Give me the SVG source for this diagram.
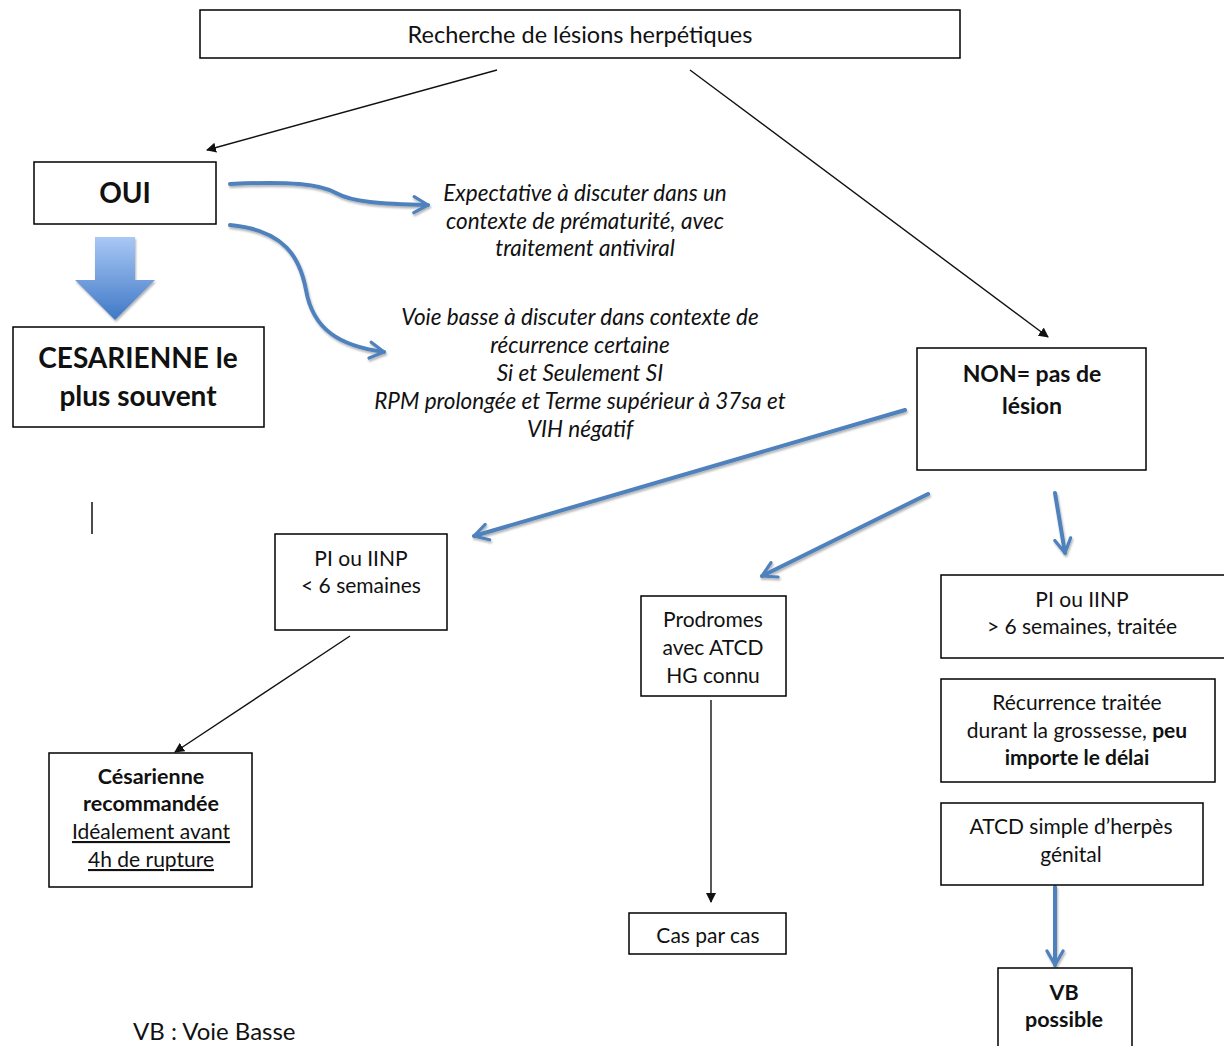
<svg xmlns="http://www.w3.org/2000/svg" width="1224" height="1046" viewBox="0 0 1224 1046">
<defs>
<style>
.box{fill:#fff;stroke:#000;stroke-width:1.5}
.t{font-family:Lato,"Open Sans","Liberation Sans",sans-serif;fill:#111;text-anchor:middle}
.r{font-size:21px}
.b{font-weight:bold}
.i{font-style:italic;font-size:22.5px}
.blk{fill:none;stroke:#111;stroke-width:1.4;marker-end:url(#tri)}
.blue{fill:none;stroke:#4f81bd;stroke-width:4;stroke-linecap:round;marker-end:url(#chev);filter:url(#sh)}
</style>
<marker id="tri" viewBox="0 0 10 10" refX="9" refY="5" markerWidth="10" markerHeight="10" markerUnits="userSpaceOnUse" orient="auto">
<path d="M0,0 L10,5 L0,10 z" fill="#111"/>
</marker>
<marker id="chev" viewBox="0 0 10 10" refX="8" refY="5" markerWidth="5" markerHeight="5" orient="auto">
<path d="M1,1 L8,5 L1,9" fill="none" stroke="#4f81bd" stroke-width="1.6" stroke-linecap="round" stroke-linejoin="round"/>
</marker>
<linearGradient id="g" x1="0" y1="0" x2="0" y2="1">
<stop offset="0" stop-color="#a9c8f5"/>
<stop offset="1" stop-color="#3f78c6"/>
</linearGradient>
<filter id="sh" filterUnits="userSpaceOnUse" x="0" y="0" width="1224" height="1046">
<feDropShadow dx="1" dy="2" stdDeviation="1" flood-color="#000" flood-opacity="0.3"/>
</filter>
</defs>

<g id="connectors">
<path class="blk" d="M497,70 L207,150"/>
<path class="blk" d="M690,70 L1048,337"/>
<path class="blue" d="M230,184 C290,181 320,184 336,193 C352,202 380,204 428,205"/>
<path class="blue" d="M230,225 C285,230 300,258 306,290 C313,330 340,346 384,352"/>
<path class="blue" d="M905,410 L474,536"/>
<path class="blue" d="M928,494 L762,576"/>
<path class="blue" d="M1055,493 L1065,553"/>
<path class="blk" d="M350,636 L175,752"/>
<path class="blk" d="M711,700 L711,902"/>
<path class="blue" d="M1055,887 L1055,965"/>
<path d="M95,237 H135 V280 H155 L115,320 L75,280 H95 Z" fill="url(#g)" filter="url(#sh)"/>
</g>

<g id="n-top">
<rect class="box" x="200" y="10" width="760" height="48"/>
<text class="t" x="580" y="43" font-size="23.5">Recherche de lésions herpétiques</text>
</g>

<g id="n-oui">
<rect class="box" x="34" y="162" width="182" height="62"/>
<text class="t b" x="125" y="203" font-size="28">OUI</text>
</g>

<g id="n-ces">
<rect class="box" x="13" y="327" width="251" height="100"/>
<text class="t b" x="138" y="368" font-size="28">CESARIENNE le</text>
<text class="t b" x="138" y="406" font-size="28">plus souvent</text>
</g>

<g id="n-expect">
<text class="t i" x="585" y="201">Expectative à discuter dans un</text>
<text class="t i" x="585" y="229">contexte de prématurité, avec</text>
<text class="t i" x="585" y="256">traitement antiviral</text>
</g>

<g id="n-voie">
<text class="t i" x="580" y="325">Voie basse à discuter dans contexte de</text>
<text class="t i" x="580" y="353">récurrence certaine</text>
<text class="t i" x="580" y="381">Si et Seulement SI</text>
<text class="t i" x="580" y="409">RPM prolongée et Terme supérieur à 37sa et</text>
<text class="t i" x="580" y="437">VIH négatif</text>
</g>

<g id="n-non">
<rect class="box" x="917" y="348" width="229" height="122"/>
<text class="t b" x="1032" y="382" font-size="23">NON= pas de</text>
<text class="t b" x="1032" y="414" font-size="23">lésion</text>
</g>

<g id="n-pi1">
<rect class="box" x="275" y="534" width="172" height="96"/>
<text class="t r" x="361" y="566">PI ou IINP</text>
<text class="t r" x="361" y="593">&lt; 6 semaines</text>
</g>

<g id="n-cesrec">
<rect class="box" x="49" y="753" width="203" height="134"/>
<text class="t b" x="151" y="784" font-size="21.5">Césarienne</text>
<text class="t b" x="151" y="811" font-size="21.5">recommandée</text>
<text class="t r" x="151" y="839" text-decoration="underline">Idéalement avant</text>
<text class="t r" x="151" y="867" text-decoration="underline">4h de rupture</text>
</g>

<g id="n-prod">
<rect class="box" x="641" y="596" width="145" height="100"/>
<text class="t r" x="713" y="627">Prodromes</text>
<text class="t r" x="713" y="655">avec ATCD</text>
<text class="t r" x="713" y="683">HG connu</text>
</g>

<g id="n-cas">
<rect class="box" x="629" y="913" width="157" height="41"/>
<text class="t r" x="708" y="943">Cas par cas</text>
</g>

<g id="n-pi2">
<rect class="box" x="941" y="575" width="290" height="83"/>
<text class="t r" x="1082" y="607">PI ou IINP</text>
<text class="t r" x="1082" y="634">&gt; 6 semaines, traitée</text>
</g>

<g id="n-recur">
<rect class="box" x="941" y="679" width="274" height="103"/>
<text class="t r" x="1077" y="710">Récurrence traitée</text>
<text class="t r" x="1077" y="738">durant la grossesse, <tspan class="b">peu</tspan></text>
<text class="t r b" x="1077" y="765">importe le délai</text>
</g>

<g id="n-atcd">
<rect class="box" x="941" y="803" width="262" height="82"/>
<text class="t r" x="1071" y="834">ATCD simple d’herpès</text>
<text class="t r" x="1071" y="862">génital</text>
</g>

<g id="n-vb">
<rect class="box" x="998" y="968" width="134" height="90"/>
<text class="t b" x="1064" y="1000" font-size="21.5">VB</text>
<text class="t b" x="1064" y="1027" font-size="21.5">possible</text>
</g>

<g id="legend">
<line x1="92" y1="502" x2="92" y2="534" stroke="#111" stroke-width="1.5"/>
<text class="t" x="133" y="1040" font-size="24" style="text-anchor:start">VB : Voie Basse</text>
</g>
</svg>
